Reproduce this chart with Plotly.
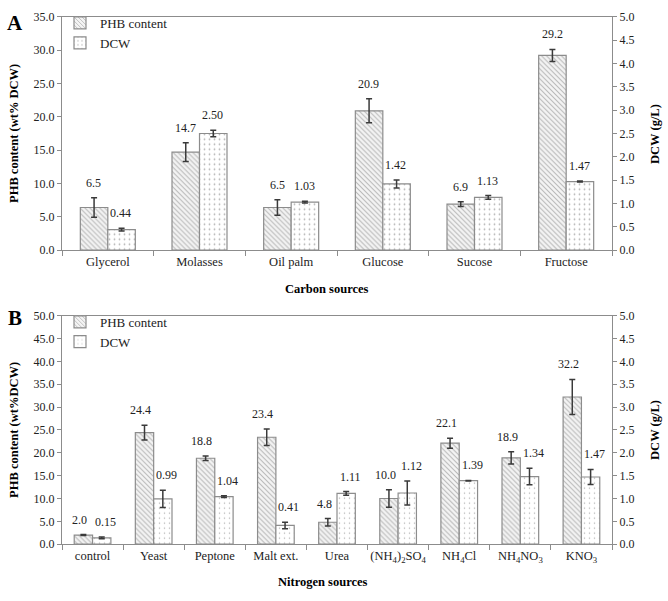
import plotly.graph_objects as go

# ---------------- Data ----------------
carbon_cats = ["Glycerol", "Molasses", "Oil palm", "Glucose", "Sucose", "Fructose"]
phb_a = [6.4, 14.7, 6.4, 20.9, 6.9, 29.2]
phb_a_err = [1.45, 1.4, 1.15, 1.8, 0.35, 0.9]
phb_a_labels = ["6.5", "14.7", "6.5", "20.9", "6.9", "29.2"]
dcw_a = [0.44, 2.50, 1.03, 1.42, 1.13, 1.47]
dcw_a_err = [0.03, 0.07, 0.02, 0.085, 0.04, 0.01]
dcw_a_labels = ["0.44", "2.50", "1.03", "1.42", "1.13", "1.47"]

nitro_cats = ["control", "Yeast", "Peptone", "Malt ext.", "Urea",
              "(NH<sub>4</sub>)<sub>2</sub>SO<sub>4</sub>", "NH<sub>4</sub>Cl",
              "NH<sub>4</sub>NO<sub>3</sub>", "KNO<sub>3</sub>"]
phb_b = [2.0, 24.4, 18.8, 23.4, 4.8, 10.0, 22.1, 18.9, 32.2]
phb_b_err = [0.1, 1.6, 0.5, 1.8, 0.8, 1.9, 1.1, 1.35, 3.85]
phb_b_labels = ["2.0", "24.4", "18.8", "23.4", "4.8", "10.0", "22.1", "18.9", "32.2"]
dcw_b = [0.14, 0.99, 1.04, 0.41, 1.11, 1.12, 1.39, 1.48, 1.47]
dcw_b_err = [0.02, 0.19, 0.02, 0.07, 0.04, 0.26, 0.005, 0.18, 0.165]
dcw_b_labels = ["0.15", "0.99", "1.04", "0.41", "1.11", "1.12", "1.39", "1.34", "1.47"]

FONT = "Liberation Serif"
TXT = "#222222"
LINE = "#8c8c8c"
ERR = "#3a3a3a"

W, H = 668, 601
def px_x(p): return p / W
def px_y(p): return 1 - p / H

fig = go.Figure()

def add_panel(cats, phb, phb_err, dcw, dcw_err, xa, ya, ya2, legend, dcw_solidity):
    fig.add_trace(go.Bar(
        x=cats, y=phb, name="PHB content", xaxis=xa, yaxis=ya,
        offsetgroup="1", legend=legend,
        marker=dict(color="#f4f4f4", line=dict(color=LINE, width=1.2),
                    pattern=dict(shape="\\", fgcolor="#7a7a7a", bgcolor="#f4f4f4",
                                 size=3.5, solidity=0.3)),
        error_y=dict(type="data", array=phb_err, color=ERR, thickness=1.5, width=3),
    ))
    fig.add_trace(go.Bar(
        x=cats, y=dcw, name="DCW", xaxis=xa, yaxis=ya2,
        offsetgroup="2", legend=legend,
        marker=dict(color="white", line=dict(color=LINE, width=1.2),
                    pattern=dict(shape=".", fgcolor="#6a6a6a", bgcolor="white",
                                 size=5, solidity=dcw_solidity)),
        error_y=dict(type="data", array=dcw_err, color=ERR, thickness=1.5, width=3),
    ))

add_panel(carbon_cats, phb_a, phb_a_err, dcw_a, dcw_a_err, "x", "y", "y2", "legend", 0.1)
add_panel(nitro_cats, phb_b, phb_b_err, dcw_b, dcw_b_err, "x2", "y3", "y4", "legend2", 0.07)

# value labels
ann = []
def labels(cats, vals, errs, texts, xref, yref, shift):
    for c, v, e, t in zip(cats, vals, errs, texts):
        ann.append(dict(x=c, y=v + e, xref=xref, yref=yref, text=t, showarrow=False,
                        xshift=shift, yshift=6, yanchor="bottom",
                        font=dict(family=FONT, size=12, color=TXT)))

labels(carbon_cats, phb_a, phb_a_err, phb_a_labels, "x", "y", -14)
labels(carbon_cats, dcw_a, dcw_a_err, dcw_a_labels, "x", "y2", 13)
labels(nitro_cats, phb_b, phb_b_err, phb_b_labels, "x2", "y3", -13)
labels(nitro_cats, dcw_b, dcw_b_err, dcw_b_labels, "x2", "y4", 13)

# titles / panel letters
def title(text, x, y, angle=0, size=12.5, bold=True):
    ann.append(dict(x=px_x(x), y=px_y(y), xref="paper", yref="paper",
                    text=f"<b>{text}</b>" if bold else text, showarrow=False,
                    textangle=angle, xanchor="center", yanchor="middle",
                    font=dict(family=FONT, size=size, color="black")))

title("A", 15, 16, size=21)
title("B", 15, 318, size=21)
title("PHB content (wt% DCW)", 14, 130, angle=-90)
title("DCW (g/L)", 655, 130, angle=-90)
title("Carbon sources", 327, 289)
title("PHB content (wt%DCW)", 14, 433, angle=-90)
title("DCW (g/L)", 655, 433, angle=-90)
title("Nitrogen sources", 323, 589)

xdom = [px_x(62), px_x(612)]
tickfont = dict(family=FONT, size=12.5, color=TXT)
ytickfont = dict(family=FONT, size=12, color=TXT)

xcommon = dict(showline=True, linecolor=LINE, linewidth=1.2, mirror=True,
               ticks="outside", tickson="boundaries", ticklen=5, tickcolor=LINE,
               tickfont=tickfont, showgrid=False, domain=xdom, tickangle=0)
ycommon = dict(showline=True, linecolor=LINE, linewidth=1.2, ticks="outside",
               ticklen=4, tickcolor=LINE, tickfont=ytickfont, showgrid=False,
               zeroline=False, tickformat=".1f")

legfont = dict(family=FONT, size=13, color=TXT)
fig.update_layout(
    width=W, height=H, margin=dict(l=0, r=0, t=0, b=0),
    paper_bgcolor="white", plot_bgcolor="white",
    barmode="group", bargap=0.4, bargroupgap=0,
    font=dict(family=FONT, color=TXT),
    xaxis=dict(**xcommon, anchor="y"),
    yaxis=dict(**ycommon, domain=[px_y(249), px_y(10)], range=[0, 35], dtick=5, anchor="x"),
    yaxis2=dict(**ycommon, overlaying="y", side="right", range=[0, 5], dtick=0.5, anchor="x"),
    xaxis2=dict(**xcommon, anchor="y3"),
    yaxis3=dict(**ycommon, domain=[px_y(550), px_y(316)], range=[0, 50], dtick=5, anchor="x2"),
    yaxis4=dict(**ycommon, overlaying="y3", side="right", range=[0, 5], dtick=0.5, anchor="x2"),
    legend=dict(x=px_x(60), y=px_y(1), xanchor="left", yanchor="top",
                bgcolor="rgba(0,0,0,0)", tracegroupgap=0, itemwidth=30,
                font=legfont),
    legend2=dict(x=px_x(60), y=px_y(307), xanchor="left", yanchor="top",
                 bgcolor="rgba(0,0,0,0)", tracegroupgap=0, itemwidth=30,
                 font=legfont),
    annotations=ann,
)

fig.write_html("out.html", config={"displayModeBar": False},
               post_script="document.body.style.margin='0';")
